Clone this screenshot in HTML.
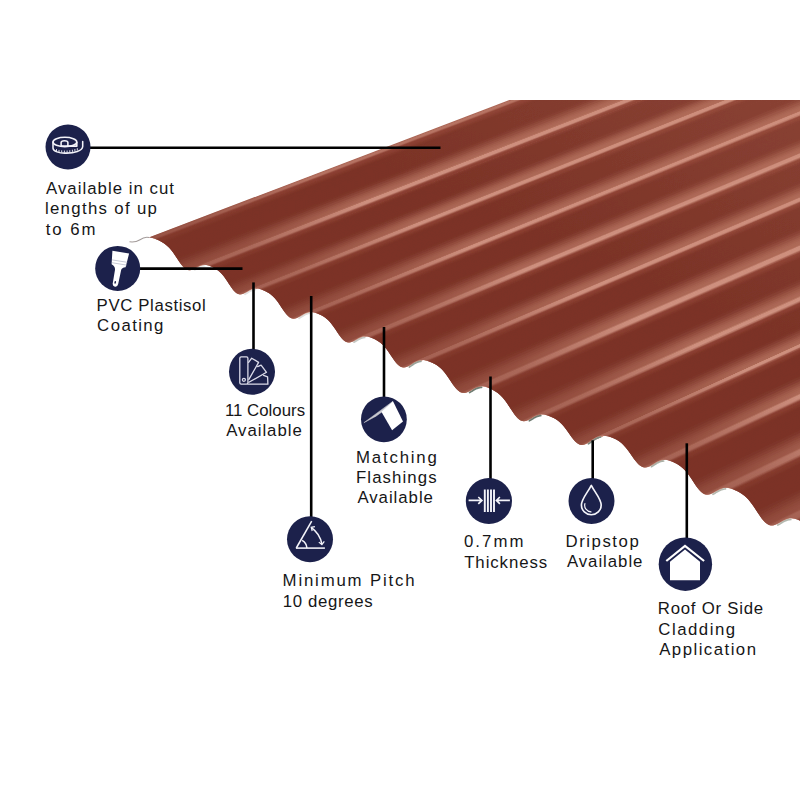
<!DOCTYPE html>
<html><head><meta charset="utf-8"><title>Corrugated sheet</title>
<style>
html,body{margin:0;padding:0;background:#fff;}
body{width:800px;height:800px;position:relative;overflow:hidden;font-family:"Liberation Sans",sans-serif;}
svg{position:absolute;left:0;top:0;}
.t{position:absolute;white-space:nowrap;font-size:16.8px;line-height:20px;height:20px;color:#161617;}
</style></head><body>
<svg width="800" height="800" viewBox="0 0 800 800">
<defs><filter id="soft" x="-5%" y="-5%" width="110%" height="110%"><feGaussianBlur stdDeviation="0.55"/></filter><linearGradient id="fade" gradientUnits="userSpaceOnUse" x1="400" y1="368" x2="569.7" y2="-16.3"><stop offset="0" stop-color="#7b3327" stop-opacity="0.55"/><stop offset="0.12" stop-color="#7b3327" stop-opacity="0.42"/><stop offset="0.333" stop-color="#7b3327" stop-opacity="0"/></linearGradient><linearGradient id="haze" gradientUnits="userSpaceOnUse" x1="400" y1="368" x2="569.7" y2="-16.3"><stop offset="0.42" stop-color="#cd8870" stop-opacity="0"/><stop offset="1" stop-color="#cd8870" stop-opacity="0.19"/></linearGradient><clipPath id="cp"><rect x="0" y="100" width="800" height="700"/></clipPath></defs>
<g clip-path="url(#cp)"><g filter="url(#soft)">
<path d="M148.8 237.5L151.4 237.8L1005 -87L1002 -88Z" fill="#aa6555"/>
<path d="M150.1 237.6L152.8 238.1L1006 -87L1004 -87Z" fill="#af6b5b"/>
<path d="M151.4 237.8L154.1 238.5L1007 -87L1005 -87Z" fill="#b57262"/>
<path d="M152.8 238.1L155.4 238.9L1008 -86L1006 -87Z" fill="#b77464"/>
<path d="M154.1 238.5L156.7 239.5L1009 -86L1007 -87Z" fill="#ae695a"/>
<path d="M155.4 238.9L158.0 240.0L1010 -85L1008 -86Z" fill="#964c3e"/>
<path d="M156.7 239.5L159.2 240.6L1011 -85L1009 -86Z" fill="#8b3f31"/>
<path d="M158.0 240.0L160.5 241.3L1012 -84L1010 -85Z" fill="#8a3e31"/>
<path d="M159.2 240.6L161.8 242.0L1013 -84L1011 -85Z" fill="#873c2f"/>
<path d="M160.5 241.3L163.0 242.7L1014 -83L1012 -84Z" fill="#83392c"/>
<path d="M161.8 242.0L164.3 243.6L1015 -82L1013 -84Z" fill="#7f3629"/>
<path d="M163.0 242.7L165.5 244.5L1016 -82L1014 -83Z" fill="#7b3327"/>
<path d="M164.3 243.6L166.7 245.5L1018 -81L1015 -82Z" fill="#7b3327"/>
<path d="M165.5 244.5L168.0 246.5L1019 -80L1016 -82Z" fill="#7b3327"/>
<path d="M166.7 245.5L169.2 247.8L1020 -79L1018 -81Z" fill="#7b3327"/>
<path d="M168.0 246.5L170.4 249.1L1021 -78L1019 -80Z" fill="#7b3327"/>
<path d="M169.2 247.8L171.6 250.5L1022 -77L1020 -79Z" fill="#7b3327"/>
<path d="M170.4 249.1L172.8 252.1L1023 -75L1021 -78Z" fill="#7b3327"/>
<path d="M171.6 250.5L174.0 253.7L1024 -74L1022 -77Z" fill="#7b3327"/>
<path d="M172.8 252.1L175.1 255.4L1025 -72L1023 -75Z" fill="#7b3327"/>
<path d="M174.0 253.7L176.3 257.2L1026 -71L1024 -74Z" fill="#7b3327"/>
<path d="M175.1 255.4L177.5 259.0L1027 -70L1025 -72Z" fill="#7b3327"/>
<path d="M176.3 257.2L178.6 260.7L1027 -68L1026 -71Z" fill="#7c3428"/>
<path d="M177.5 259.0L179.8 262.4L1028 -67L1027 -70Z" fill="#81392c"/>
<path d="M178.6 260.7L180.9 264.0L1029 -65L1027 -68Z" fill="#884234"/>
<path d="M179.8 262.4L182.1 265.5L1030 -64L1028 -67Z" fill="#914b3c"/>
<path d="M180.9 264.0L183.2 266.8L1031 -63L1029 -65Z" fill="#9a5545"/>
<path d="M182.1 265.5L184.3 267.9L1032 -62L1030 -64Z" fill="#a15d4c"/>
<path d="M183.2 266.8L185.4 268.9L1033 -61L1031 -63Z" fill="#a76251"/>
<path d="M184.3 267.9L186.6 269.5L1034 -61L1032 -62Z" fill="#aa6654"/>
<path d="M185.4 268.9L187.7 270.0L1035 -60L1033 -61Z" fill="#ab6755"/>
<path d="M186.6 269.5L188.8 270.3L1036 -60L1034 -61Z" fill="#b3705e"/>
<path d="M187.7 270.0L189.9 270.3L1037 -60L1035 -60Z" fill="#c58675"/>
<path d="M188.8 270.3L191.0 270.1L1038 -60L1036 -60Z" fill="#cd8f7e"/>
<path d="M189.9 270.3L192.1 269.8L1039 -60L1037 -60Z" fill="#ce907f"/>
<path d="M191.0 270.1L193.2 269.4L1040 -61L1038 -60Z" fill="#ce907f"/>
<path d="M192.1 269.8L194.2 268.8L1041 -61L1039 -60Z" fill="#ce907f"/>
<path d="M193.2 269.4L195.3 268.2L1042 -62L1040 -61Z" fill="#ce907f"/>
<path d="M194.2 268.8L196.4 267.6L1042 -62L1041 -61Z" fill="#ce907f"/>
<path d="M195.3 268.2L197.5 266.9L1043 -63L1042 -62Z" fill="#ce907f"/>
<path d="M196.4 267.6L198.5 266.3L1044 -63L1042 -62Z" fill="#ce907f"/>
<path d="M197.5 266.9L199.6 265.8L1045 -64L1043 -63Z" fill="#ce907f"/>
<path d="M198.5 266.3L200.7 265.4L1046 -64L1044 -63Z" fill="#ce907f"/>
<path d="M199.6 265.8L201.7 265.1L1047 -64L1045 -64Z" fill="#ce907f"/>
<path d="M200.7 265.4L202.8 264.9L1048 -65L1046 -64Z" fill="#ce907f"/>
<path d="M201.7 265.1L203.9 264.8L1049 -65L1047 -64Z" fill="#ce907f"/>
<path d="M202.8 264.9L204.9 264.8L1050 -65L1048 -65Z" fill="#ce907f"/>
<path d="M203.9 264.8L206.0 264.9L1050 -65L1049 -65Z" fill="#ce907f"/>
<path d="M204.9 264.8L207.0 265.1L1051 -64L1050 -65Z" fill="#ce907f"/>
<path d="M206.0 264.9L208.1 265.4L1052 -64L1050 -65Z" fill="#ce907f"/>
<path d="M207.0 265.1L209.1 265.7L1053 -64L1051 -64Z" fill="#cd8f7e"/>
<path d="M208.1 265.4L210.1 266.1L1054 -64L1052 -64Z" fill="#c38272"/>
<path d="M209.1 265.7L211.2 266.6L1055 -63L1053 -64Z" fill="#ac6758"/>
<path d="M210.1 266.1L212.2 267.1L1056 -63L1054 -64Z" fill="#944a3c"/>
<path d="M211.2 266.6L213.3 267.6L1057 -62L1055 -63Z" fill="#8b3f31"/>
<path d="M212.2 267.1L214.3 268.1L1057 -62L1056 -63Z" fill="#8a3e31"/>
<path d="M213.3 267.6L215.3 268.7L1058 -61L1057 -62Z" fill="#873c2e"/>
<path d="M214.3 268.1L216.4 269.4L1059 -61L1057 -62Z" fill="#83392c"/>
<path d="M215.3 268.7L217.4 270.1L1060 -60L1058 -61Z" fill="#7e3529"/>
<path d="M216.4 269.4L218.5 270.8L1061 -60L1059 -61Z" fill="#7b3327"/>
<path d="M217.4 270.1L219.5 271.7L1062 -59L1060 -60Z" fill="#7b3327"/>
<path d="M218.5 270.8L220.5 272.6L1063 -58L1061 -60Z" fill="#7b3327"/>
<path d="M219.5 271.7L221.6 273.7L1064 -57L1062 -59Z" fill="#7b3327"/>
<path d="M220.5 272.6L222.6 274.8L1064 -56L1063 -58Z" fill="#7b3327"/>
<path d="M221.6 273.7L223.6 276.1L1065 -55L1064 -57Z" fill="#7b3327"/>
<path d="M222.6 274.8L224.7 277.5L1066 -54L1064 -56Z" fill="#7b3327"/>
<path d="M223.6 276.1L225.7 278.9L1067 -53L1065 -55Z" fill="#7b3327"/>
<path d="M224.7 277.5L226.8 280.5L1068 -51L1066 -54Z" fill="#7b3327"/>
<path d="M225.7 278.9L227.8 282.0L1069 -50L1067 -53Z" fill="#7b3327"/>
<path d="M226.8 280.5L228.8 283.7L1070 -49L1068 -51Z" fill="#7b3327"/>
<path d="M227.8 282.0L229.9 285.3L1071 -47L1069 -50Z" fill="#7c3428"/>
<path d="M228.8 283.7L230.9 286.8L1071 -46L1070 -49Z" fill="#813a2d"/>
<path d="M229.9 285.3L232.0 288.3L1072 -45L1071 -47Z" fill="#894235"/>
<path d="M230.9 286.8L233.0 289.7L1073 -44L1071 -46Z" fill="#924c3d"/>
<path d="M232.0 288.3L234.1 291.0L1074 -43L1072 -45Z" fill="#9b5545"/>
<path d="M233.0 289.7L235.1 292.1L1075 -42L1073 -44Z" fill="#a25d4c"/>
<path d="M234.1 291.0L236.2 292.9L1076 -41L1074 -43Z" fill="#a76351"/>
<path d="M235.1 292.1L237.3 293.6L1077 -40L1075 -42Z" fill="#aa6654"/>
<path d="M236.2 292.9L238.3 294.1L1078 -40L1076 -41Z" fill="#ab6755"/>
<path d="M237.3 293.6L239.4 294.3L1079 -40L1077 -40Z" fill="#b47260"/>
<path d="M238.3 294.1L240.4 294.4L1079 -40L1078 -40Z" fill="#c78776"/>
<path d="M239.4 294.3L241.5 294.2L1080 -40L1079 -40Z" fill="#cd8f7e"/>
<path d="M240.4 294.4L242.6 293.9L1081 -40L1079 -40Z" fill="#ce907f"/>
<path d="M241.5 294.2L243.7 293.5L1082 -41L1080 -40Z" fill="#ce907f"/>
<path d="M242.6 293.9L244.8 292.9L1083 -41L1081 -40Z" fill="#ce907f"/>
<path d="M243.7 293.5L245.8 292.3L1084 -42L1082 -41Z" fill="#ce907f"/>
<path d="M244.8 292.9L246.9 291.6L1085 -42L1083 -41Z" fill="#ce907f"/>
<path d="M245.8 292.3L248.0 291.0L1086 -43L1084 -42Z" fill="#ce907f"/>
<path d="M246.9 291.6L249.1 290.3L1087 -43L1085 -42Z" fill="#ce907f"/>
<path d="M248.0 291.0L250.2 289.7L1088 -44L1086 -43Z" fill="#ce907f"/>
<path d="M249.1 290.3L251.3 289.3L1089 -44L1087 -43Z" fill="#ce907f"/>
<path d="M250.2 289.7L252.4 288.9L1089 -44L1088 -44Z" fill="#ce907f"/>
<path d="M251.3 289.3L253.5 288.6L1090 -45L1089 -44Z" fill="#ce907f"/>
<path d="M252.4 288.9L254.6 288.4L1091 -45L1089 -44Z" fill="#ce907f"/>
<path d="M253.5 288.6L255.7 288.4L1092 -45L1090 -45Z" fill="#ce907f"/>
<path d="M254.6 288.4L256.8 288.4L1093 -45L1091 -45Z" fill="#ce907f"/>
<path d="M255.7 288.4L257.9 288.6L1094 -45L1092 -45Z" fill="#ce907f"/>
<path d="M256.8 288.4L259.0 288.8L1095 -44L1093 -45Z" fill="#ce907f"/>
<path d="M257.9 288.6L260.2 289.1L1096 -44L1094 -45Z" fill="#cd8f7e"/>
<path d="M259.0 288.8L261.3 289.5L1097 -44L1095 -44Z" fill="#c18170"/>
<path d="M260.2 289.1L262.4 289.9L1098 -44L1096 -44Z" fill="#aa6555"/>
<path d="M261.3 289.5L263.5 290.3L1099 -43L1097 -44Z" fill="#93493a"/>
<path d="M262.4 289.9L264.6 290.8L1100 -43L1098 -44Z" fill="#8b3f31"/>
<path d="M263.5 290.3L265.8 291.4L1101 -42L1099 -43Z" fill="#8a3e30"/>
<path d="M264.6 290.8L266.9 292.0L1102 -42L1100 -43Z" fill="#863c2e"/>
<path d="M265.8 291.4L268.0 292.6L1103 -41L1101 -42Z" fill="#82382b"/>
<path d="M266.9 292.0L269.2 293.3L1104 -41L1102 -42Z" fill="#7e3529"/>
<path d="M268.0 292.6L270.3 294.1L1104 -40L1103 -41Z" fill="#7b3327"/>
<path d="M269.2 293.3L271.4 295.0L1105 -39L1104 -41Z" fill="#7b3327"/>
<path d="M270.3 294.1L272.6 295.9L1106 -38L1104 -40Z" fill="#7b3327"/>
<path d="M271.4 295.0L273.7 297.0L1107 -38L1105 -39Z" fill="#7b3327"/>
<path d="M272.6 295.9L274.8 298.3L1108 -37L1106 -38Z" fill="#7b3327"/>
<path d="M273.7 297.0L276.0 299.6L1109 -35L1107 -38Z" fill="#7b3327"/>
<path d="M274.8 298.3L277.1 301.1L1110 -34L1108 -37Z" fill="#7b3327"/>
<path d="M276.0 299.6L278.3 302.6L1111 -33L1109 -35Z" fill="#7b3327"/>
<path d="M277.1 301.1L279.4 304.3L1112 -31L1110 -34Z" fill="#7b3327"/>
<path d="M278.3 302.6L280.5 306.0L1113 -30L1111 -33Z" fill="#7b3327"/>
<path d="M279.4 304.3L281.7 307.7L1114 -29L1112 -31Z" fill="#7b3327"/>
<path d="M280.5 306.0L282.8 309.4L1115 -27L1113 -30Z" fill="#7c3428"/>
<path d="M281.7 307.7L284.0 311.1L1116 -26L1114 -29Z" fill="#823a2e"/>
<path d="M282.8 309.4L285.1 312.7L1117 -24L1115 -27Z" fill="#8a4335"/>
<path d="M284.0 311.1L286.3 314.1L1118 -23L1116 -26Z" fill="#934d3e"/>
<path d="M285.1 312.7L287.4 315.4L1119 -22L1117 -24Z" fill="#9b5646"/>
<path d="M286.3 314.1L288.6 316.5L1120 -21L1118 -23Z" fill="#a25e4d"/>
<path d="M287.4 315.4L289.7 317.4L1121 -20L1119 -22Z" fill="#a76352"/>
<path d="M288.6 316.5L290.9 318.1L1122 -20L1120 -21Z" fill="#aa6654"/>
<path d="M289.7 317.4L292.0 318.5L1123 -19L1121 -20Z" fill="#ab6755"/>
<path d="M290.9 318.1L293.2 318.7L1124 -19L1122 -20Z" fill="#b67362"/>
<path d="M292.0 318.5L294.3 318.7L1125 -19L1123 -19Z" fill="#c88977"/>
<path d="M293.2 318.7L295.5 318.5L1126 -20L1124 -19Z" fill="#cd8f7e"/>
<path d="M294.3 318.7L296.6 318.1L1127 -20L1125 -19Z" fill="#ce907f"/>
<path d="M295.5 318.5L297.8 317.6L1128 -20L1126 -20Z" fill="#ce907f"/>
<path d="M296.6 318.1L298.9 316.9L1129 -21L1127 -20Z" fill="#ce907f"/>
<path d="M297.8 317.6L300.1 316.2L1130 -21L1128 -20Z" fill="#ce907f"/>
<path d="M298.9 316.9L301.2 315.5L1130 -22L1129 -21Z" fill="#ce907f"/>
<path d="M300.1 316.2L302.4 314.7L1131 -23L1130 -21Z" fill="#ce907f"/>
<path d="M301.2 315.5L303.5 314.0L1132 -23L1130 -22Z" fill="#ce907f"/>
<path d="M302.4 314.7L304.7 313.4L1133 -24L1131 -23Z" fill="#ce907f"/>
<path d="M303.5 314.0L305.8 312.9L1134 -24L1132 -23Z" fill="#ce907f"/>
<path d="M304.7 313.4L307.0 312.5L1135 -25L1133 -24Z" fill="#ce907f"/>
<path d="M305.8 312.9L308.2 312.2L1136 -25L1134 -24Z" fill="#ce907f"/>
<path d="M307.0 312.5L309.3 312.0L1137 -25L1135 -25Z" fill="#ce907f"/>
<path d="M308.2 312.2L310.5 311.9L1138 -25L1136 -25Z" fill="#ce907f"/>
<path d="M309.3 312.0L311.6 312.0L1139 -25L1137 -25Z" fill="#ce907f"/>
<path d="M310.5 311.9L312.8 312.2L1140 -25L1138 -25Z" fill="#ce907f"/>
<path d="M311.6 312.0L313.9 312.4L1141 -25L1139 -25Z" fill="#ce907f"/>
<path d="M312.8 312.2L315.1 312.7L1142 -24L1140 -25Z" fill="#cd8f7e"/>
<path d="M313.9 312.4L316.2 313.1L1143 -24L1141 -25Z" fill="#c07f6e"/>
<path d="M315.1 312.7L317.4 313.5L1144 -24L1142 -24Z" fill="#a86253"/>
<path d="M316.2 313.1L318.5 314.0L1145 -23L1143 -24Z" fill="#924739"/>
<path d="M317.4 313.5L319.7 314.5L1146 -23L1144 -24Z" fill="#8b3f31"/>
<path d="M318.5 314.0L320.8 315.0L1147 -22L1145 -23Z" fill="#8a3e30"/>
<path d="M319.7 314.5L322.0 315.6L1148 -22L1146 -23Z" fill="#863b2e"/>
<path d="M320.8 315.0L323.1 316.3L1149 -21L1147 -22Z" fill="#82382b"/>
<path d="M322.0 315.6L324.3 317.0L1150 -21L1148 -22Z" fill="#7e3529"/>
<path d="M323.1 316.3L325.4 317.8L1151 -20L1149 -21Z" fill="#7b3327"/>
<path d="M324.3 317.0L326.6 318.7L1152 -19L1150 -21Z" fill="#7b3327"/>
<path d="M325.4 317.8L327.7 319.7L1153 -18L1151 -20Z" fill="#7b3327"/>
<path d="M326.6 318.7L328.9 320.8L1154 -18L1152 -19Z" fill="#7b3327"/>
<path d="M327.7 319.7L330.0 322.1L1155 -17L1153 -18Z" fill="#7b3327"/>
<path d="M328.9 320.8L331.2 323.4L1156 -15L1154 -18Z" fill="#7b3327"/>
<path d="M330.0 322.1L332.3 324.9L1157 -14L1155 -17Z" fill="#7b3327"/>
<path d="M331.2 323.4L333.4 326.5L1158 -13L1156 -15Z" fill="#7b3327"/>
<path d="M332.3 324.9L334.6 328.1L1158 -11L1157 -14Z" fill="#7b3327"/>
<path d="M333.4 326.5L335.7 329.8L1159 -10L1158 -13Z" fill="#7b3327"/>
<path d="M334.6 328.1L336.9 331.6L1160 -9L1158 -11Z" fill="#7b3327"/>
<path d="M335.7 329.8L338.0 333.3L1161 -7L1159 -10Z" fill="#7d3528"/>
<path d="M336.9 331.6L339.2 334.9L1162 -6L1160 -9Z" fill="#823b2e"/>
<path d="M338.0 333.3L340.3 336.5L1163 -4L1161 -7Z" fill="#8b4436"/>
<path d="M339.2 334.9L341.4 338.0L1164 -3L1162 -6Z" fill="#934e3e"/>
<path d="M340.3 336.5L342.6 339.2L1165 -2L1163 -4Z" fill="#9c5747"/>
<path d="M341.4 338.0L343.7 340.3L1166 -1L1164 -3Z" fill="#a35e4d"/>
<path d="M342.6 339.2L344.9 341.2L1167 -0L1165 -2Z" fill="#a86352"/>
<path d="M343.7 340.3L346.0 341.9L1168 0L1166 -1Z" fill="#ab6655"/>
<path d="M344.9 341.2L347.1 342.3L1169 0L1167 -0Z" fill="#ab6755"/>
<path d="M346.0 341.9L348.3 342.5L1170 1L1168 0Z" fill="#b77564"/>
<path d="M347.1 342.3L349.4 342.5L1171 1L1169 0Z" fill="#c98a79"/>
<path d="M348.3 342.5L350.5 342.3L1172 0L1170 1Z" fill="#ce907f"/>
<path d="M349.4 342.5L351.7 341.9L1173 0L1171 1Z" fill="#ce907f"/>
<path d="M350.5 342.3L352.8 341.4L1174 -0L1172 0Z" fill="#ce907f"/>
<path d="M351.7 341.9L353.9 340.8L1175 -1L1173 0Z" fill="#ce907f"/>
<path d="M352.8 341.4L355.1 340.1L1176 -1L1174 -0Z" fill="#ce907f"/>
<path d="M353.9 340.8L356.2 339.4L1177 -2L1175 -1Z" fill="#ce907f"/>
<path d="M355.1 340.1L357.3 338.7L1178 -3L1176 -1Z" fill="#ce907f"/>
<path d="M356.2 339.4L358.5 338.1L1179 -3L1177 -2Z" fill="#ce907f"/>
<path d="M357.3 338.7L359.6 337.5L1179 -4L1178 -3Z" fill="#ce907f"/>
<path d="M358.5 338.1L360.7 337.0L1180 -4L1179 -3Z" fill="#ce907f"/>
<path d="M359.6 337.5L361.8 336.7L1181 -4L1179 -4Z" fill="#ce907f"/>
<path d="M360.7 337.0L363.0 336.4L1182 -4L1180 -4Z" fill="#ce907f"/>
<path d="M361.8 336.7L364.1 336.3L1183 -5L1181 -4Z" fill="#ce907f"/>
<path d="M363.0 336.4L365.2 336.3L1184 -5L1182 -4Z" fill="#ce907f"/>
<path d="M364.1 336.3L366.4 336.4L1185 -4L1183 -5Z" fill="#ce907f"/>
<path d="M365.2 336.3L367.5 336.6L1186 -4L1184 -5Z" fill="#ce907f"/>
<path d="M366.4 336.4L368.6 336.8L1187 -4L1185 -4Z" fill="#ce907f"/>
<path d="M367.5 336.6L369.8 337.2L1188 -4L1186 -4Z" fill="#cc8e7d"/>
<path d="M368.6 336.8L370.9 337.6L1189 -3L1187 -4Z" fill="#be7d6d"/>
<path d="M369.8 337.2L372.0 338.0L1190 -3L1188 -4Z" fill="#a66051"/>
<path d="M370.9 337.6L373.2 338.5L1191 -3L1189 -3Z" fill="#904537"/>
<path d="M372.0 338.0L374.3 339.0L1192 -2L1190 -3Z" fill="#8b3f31"/>
<path d="M373.2 338.5L375.4 339.6L1193 -2L1191 -3Z" fill="#893e30"/>
<path d="M374.3 339.0L376.6 340.2L1194 -1L1192 -2Z" fill="#863b2e"/>
<path d="M375.4 339.6L377.7 340.9L1195 -1L1193 -2Z" fill="#81382b"/>
<path d="M376.6 340.2L378.9 341.6L1196 -0L1194 -1Z" fill="#7d3528"/>
<path d="M377.7 340.9L380.0 342.4L1197 1L1195 -1Z" fill="#7b3327"/>
<path d="M378.9 341.6L381.1 343.3L1198 1L1196 -0Z" fill="#7b3327"/>
<path d="M380.0 342.4L382.3 344.3L1199 2L1197 1Z" fill="#7b3327"/>
<path d="M381.1 343.3L383.4 345.5L1200 3L1198 1Z" fill="#7b3327"/>
<path d="M382.3 344.3L384.6 346.7L1200 4L1199 2Z" fill="#7b3327"/>
<path d="M383.4 345.5L385.7 348.1L1201 5L1200 3Z" fill="#7b3327"/>
<path d="M384.6 346.7L386.9 349.6L1202 7L1200 4Z" fill="#7b3327"/>
<path d="M385.7 348.1L388.1 351.2L1203 8L1201 5Z" fill="#7b3327"/>
<path d="M386.9 349.6L389.2 352.9L1204 9L1202 7Z" fill="#7b3327"/>
<path d="M388.1 351.2L390.4 354.6L1205 11L1203 8Z" fill="#7b3327"/>
<path d="M389.2 352.9L391.5 356.4L1206 12L1204 9Z" fill="#7b3327"/>
<path d="M390.4 354.6L392.7 358.1L1207 14L1205 11Z" fill="#7d3529"/>
<path d="M391.5 356.4L393.9 359.8L1208 15L1206 12Z" fill="#833c2f"/>
<path d="M392.7 358.1L395.0 361.4L1209 17L1207 14Z" fill="#8b4537"/>
<path d="M393.9 359.8L396.2 362.9L1210 18L1208 15Z" fill="#944e3f"/>
<path d="M395.0 361.4L397.4 364.2L1211 19L1209 17Z" fill="#9d5747"/>
<path d="M396.2 362.9L398.6 365.3L1212 20L1210 18Z" fill="#a35f4e"/>
<path d="M397.4 364.2L399.8 366.2L1213 21L1211 19Z" fill="#a86452"/>
<path d="M398.6 365.3L401.0 366.9L1214 21L1212 20Z" fill="#ab6755"/>
<path d="M399.8 366.2L402.1 367.3L1215 22L1213 21Z" fill="#ab6755"/>
<path d="M401.0 366.9L403.3 367.5L1216 22L1214 21Z" fill="#b97766"/>
<path d="M402.1 367.3L404.5 367.4L1217 22L1215 22Z" fill="#c98b7a"/>
<path d="M403.3 367.5L405.7 367.2L1218 21L1216 22Z" fill="#ce907f"/>
<path d="M404.5 367.4L406.9 366.7L1219 21L1217 22Z" fill="#ce907f"/>
<path d="M405.7 367.2L408.2 366.1L1220 21L1218 21Z" fill="#ce907f"/>
<path d="M406.9 366.7L409.4 365.4L1221 20L1219 21Z" fill="#ce907f"/>
<path d="M408.2 366.1L410.6 364.7L1222 19L1220 21Z" fill="#ce907f"/>
<path d="M409.4 365.4L411.8 363.8L1223 19L1221 20Z" fill="#ce907f"/>
<path d="M410.6 364.7L413.0 363.0L1224 18L1222 19Z" fill="#ce907f"/>
<path d="M411.8 363.8L414.2 362.3L1225 17L1223 19Z" fill="#ce907f"/>
<path d="M413.0 363.0L415.5 361.6L1226 17L1224 18Z" fill="#ce907f"/>
<path d="M414.2 362.3L416.7 361.0L1227 16L1225 17Z" fill="#ce907f"/>
<path d="M415.5 361.6L417.9 360.6L1229 16L1226 17Z" fill="#ce907f"/>
<path d="M416.7 361.0L419.2 360.2L1230 16L1227 16Z" fill="#ce907f"/>
<path d="M417.9 360.6L420.4 360.0L1231 15L1229 16Z" fill="#ce907f"/>
<path d="M419.2 360.2L421.7 360.0L1232 15L1230 16Z" fill="#ce907f"/>
<path d="M420.4 360.0L422.9 360.0L1233 15L1231 15Z" fill="#ce907f"/>
<path d="M421.7 360.0L424.1 360.1L1234 15L1232 15Z" fill="#ce907f"/>
<path d="M422.9 360.0L425.4 360.4L1235 16L1233 15Z" fill="#ce907f"/>
<path d="M424.1 360.1L426.6 360.7L1236 16L1234 15Z" fill="#cc8d7c"/>
<path d="M425.4 360.4L427.9 361.0L1237 16L1235 16Z" fill="#bd7b6b"/>
<path d="M426.6 360.7L429.1 361.5L1238 17L1236 16Z" fill="#a45d4e"/>
<path d="M427.9 361.0L430.4 361.9L1239 17L1237 16Z" fill="#8f4436"/>
<path d="M429.1 361.5L431.7 362.5L1240 17L1238 17Z" fill="#8b3f31"/>
<path d="M430.4 361.9L432.9 363.0L1241 18L1239 17Z" fill="#893e30"/>
<path d="M431.7 362.5L434.2 363.7L1242 18L1240 17Z" fill="#853b2e"/>
<path d="M432.9 363.0L435.4 364.3L1243 19L1241 18Z" fill="#81382b"/>
<path d="M434.2 363.7L436.7 365.1L1244 20L1242 18Z" fill="#7d3428"/>
<path d="M435.4 364.3L438.0 366.0L1245 20L1243 19Z" fill="#7b3327"/>
<path d="M436.7 365.1L439.2 367.0L1246 21L1244 20Z" fill="#7b3327"/>
<path d="M438.0 366.0L440.5 368.0L1247 22L1245 20Z" fill="#7b3327"/>
<path d="M439.2 367.0L441.8 369.3L1249 23L1246 21Z" fill="#7b3327"/>
<path d="M440.5 368.0L443.0 370.6L1250 24L1247 22Z" fill="#7b3327"/>
<path d="M441.8 369.3L444.3 372.1L1251 26L1249 23Z" fill="#7b3327"/>
<path d="M443.0 370.6L445.6 373.8L1252 27L1250 24Z" fill="#7b3327"/>
<path d="M444.3 372.1L446.9 375.5L1253 28L1251 26Z" fill="#7b3327"/>
<path d="M445.6 373.8L448.1 377.3L1254 30L1252 27Z" fill="#7b3327"/>
<path d="M446.9 375.5L449.4 379.2L1255 32L1253 28Z" fill="#7b3327"/>
<path d="M448.1 377.3L450.7 381.1L1256 33L1254 30Z" fill="#7b3327"/>
<path d="M449.4 379.2L451.9 383.0L1257 35L1255 32Z" fill="#7d3529"/>
<path d="M450.7 381.1L453.2 384.9L1258 36L1256 33Z" fill="#843c2f"/>
<path d="M451.9 383.0L454.5 386.6L1259 38L1257 35Z" fill="#8c4537"/>
<path d="M453.2 384.9L455.8 388.2L1260 39L1258 36Z" fill="#954f40"/>
<path d="M454.5 386.6L457.0 389.6L1261 40L1259 38Z" fill="#9d5848"/>
<path d="M455.8 388.2L458.3 390.7L1262 41L1260 39Z" fill="#a45f4e"/>
<path d="M457.0 389.6L459.6 391.7L1263 42L1261 40Z" fill="#a86452"/>
<path d="M458.3 390.7L460.9 392.4L1265 43L1262 41Z" fill="#ab6755"/>
<path d="M459.6 391.7L462.1 392.8L1266 43L1263 42Z" fill="#ac6856"/>
<path d="M460.9 392.4L463.4 393.0L1267 43L1265 43Z" fill="#ba7968"/>
<path d="M462.1 392.8L464.7 392.9L1268 43L1266 43Z" fill="#ca8c7b"/>
<path d="M463.4 393.0L466.0 392.7L1269 43L1267 43Z" fill="#ce907f"/>
<path d="M464.7 392.9L467.2 392.2L1270 42L1268 43Z" fill="#ce907f"/>
<path d="M466.0 392.7L468.5 391.6L1271 42L1269 43Z" fill="#ce907f"/>
<path d="M467.2 392.2L469.8 390.9L1272 41L1270 42Z" fill="#ce907f"/>
<path d="M468.5 391.6L471.0 390.2L1273 41L1271 42Z" fill="#ce907f"/>
<path d="M469.8 390.9L472.3 389.4L1274 40L1272 41Z" fill="#ce907f"/>
<path d="M471.0 390.2L473.6 388.7L1275 39L1273 41Z" fill="#ce907f"/>
<path d="M472.3 389.4L474.9 388.0L1276 39L1274 40Z" fill="#ce907f"/>
<path d="M473.6 388.7L476.1 387.4L1277 38L1275 39Z" fill="#ce907f"/>
<path d="M474.9 388.0L477.4 386.9L1278 38L1276 39Z" fill="#ce907f"/>
<path d="M476.1 387.4L478.7 386.5L1280 38L1277 38Z" fill="#ce907f"/>
<path d="M477.4 386.9L479.9 386.3L1281 37L1278 38Z" fill="#ce907f"/>
<path d="M478.7 386.5L481.2 386.2L1282 37L1280 38Z" fill="#ce907f"/>
<path d="M479.9 386.3L482.4 386.2L1283 37L1281 37Z" fill="#ce907f"/>
<path d="M481.2 386.2L483.7 386.4L1284 38L1282 37Z" fill="#ce907f"/>
<path d="M482.4 386.2L485.0 386.7L1285 38L1283 37Z" fill="#ce907f"/>
<path d="M483.7 386.4L486.2 387.0L1286 38L1284 38Z" fill="#ce907f"/>
<path d="M485.0 386.7L487.5 387.4L1287 38L1285 38Z" fill="#cb8d7c"/>
<path d="M486.2 387.0L488.7 387.9L1288 39L1286 38Z" fill="#bb7969"/>
<path d="M487.5 387.4L490.0 388.5L1289 39L1287 38Z" fill="#a25b4c"/>
<path d="M488.7 387.9L491.3 389.1L1290 40L1288 39Z" fill="#8e4335"/>
<path d="M490.0 388.5L492.5 389.7L1291 40L1289 39Z" fill="#8b3f31"/>
<path d="M491.3 389.1L493.8 390.4L1292 41L1290 40Z" fill="#893e30"/>
<path d="M492.5 389.7L495.0 391.2L1293 42L1291 40Z" fill="#853b2d"/>
<path d="M493.8 390.4L496.3 392.0L1294 42L1292 41Z" fill="#81372b"/>
<path d="M495.0 391.2L497.5 392.8L1295 43L1293 42Z" fill="#7d3428"/>
<path d="M496.3 392.0L498.8 393.8L1296 44L1294 42Z" fill="#7b3327"/>
<path d="M497.5 392.8L500.0 394.9L1297 45L1295 43Z" fill="#7b3327"/>
<path d="M498.8 393.8L501.3 396.1L1299 46L1296 44Z" fill="#7b3327"/>
<path d="M500.0 394.9L502.5 397.4L1300 47L1297 45Z" fill="#7b3327"/>
<path d="M501.3 396.1L503.8 398.8L1301 48L1299 46Z" fill="#7b3327"/>
<path d="M502.5 397.4L505.0 400.4L1302 49L1300 47Z" fill="#7b3327"/>
<path d="M503.8 398.8L506.3 402.1L1303 51L1301 48Z" fill="#7b3327"/>
<path d="M505.0 400.4L507.5 403.9L1304 52L1302 49Z" fill="#7b3327"/>
<path d="M506.3 402.1L508.7 405.7L1305 54L1303 51Z" fill="#7b3327"/>
<path d="M507.5 403.9L510.0 407.7L1306 55L1304 52Z" fill="#7b3327"/>
<path d="M508.7 405.7L511.2 409.6L1307 57L1305 54Z" fill="#7b3327"/>
<path d="M510.0 407.7L512.5 411.5L1308 59L1306 55Z" fill="#7e362a"/>
<path d="M511.2 409.6L513.7 413.3L1309 60L1307 57Z" fill="#843d30"/>
<path d="M512.5 411.5L514.9 415.0L1310 62L1308 59Z" fill="#8d4638"/>
<path d="M513.7 413.3L516.2 416.6L1311 63L1309 60Z" fill="#965040"/>
<path d="M514.9 415.0L517.4 417.9L1312 64L1310 62Z" fill="#9e5948"/>
<path d="M516.2 416.6L518.6 419.1L1313 65L1311 63Z" fill="#a4604f"/>
<path d="M517.4 417.9L519.8 420.0L1314 66L1312 64Z" fill="#a96453"/>
<path d="M518.6 419.1L521.1 420.7L1315 66L1313 65Z" fill="#ab6755"/>
<path d="M519.8 420.0L522.3 421.1L1316 67L1314 66Z" fill="#ac6856"/>
<path d="M521.1 420.7L523.5 421.2L1317 67L1315 66Z" fill="#bc7b69"/>
<path d="M522.3 421.1L524.7 421.2L1318 67L1316 67Z" fill="#cb8c7b"/>
<path d="M523.5 421.2L526.0 420.9L1319 67L1317 67Z" fill="#ce907f"/>
<path d="M524.7 421.2L527.2 420.5L1320 66L1318 67Z" fill="#ce907f"/>
<path d="M526.0 420.9L528.4 419.9L1321 66L1319 67Z" fill="#ce907f"/>
<path d="M527.2 420.5L529.6 419.2L1322 65L1320 66Z" fill="#ce907f"/>
<path d="M528.4 419.9L530.8 418.5L1323 64L1321 66Z" fill="#ce907f"/>
<path d="M529.6 419.2L532.0 417.7L1324 64L1322 65Z" fill="#ce907f"/>
<path d="M530.8 418.5L533.3 417.0L1325 63L1323 64Z" fill="#ce907f"/>
<path d="M532.0 417.7L534.5 416.3L1326 63L1324 64Z" fill="#ce907f"/>
<path d="M533.3 417.0L535.7 415.7L1327 62L1325 63Z" fill="#ce907f"/>
<path d="M534.5 416.3L536.9 415.1L1328 62L1326 63Z" fill="#ce907f"/>
<path d="M535.7 415.7L538.1 414.8L1329 61L1327 62Z" fill="#ce907f"/>
<path d="M536.9 415.1L539.3 414.5L1330 61L1328 62Z" fill="#ce907f"/>
<path d="M538.1 414.8L540.5 414.3L1331 61L1329 61Z" fill="#ce907f"/>
<path d="M539.3 414.5L541.7 414.3L1332 61L1330 61Z" fill="#ce907f"/>
<path d="M540.5 414.3L542.9 414.4L1334 61L1331 61Z" fill="#ce907f"/>
<path d="M541.7 414.3L544.2 414.6L1335 61L1332 61Z" fill="#ce907f"/>
<path d="M542.9 414.4L545.4 414.8L1336 61L1334 61Z" fill="#ce907f"/>
<path d="M544.2 414.6L546.6 415.2L1337 62L1335 61Z" fill="#ca8c7b"/>
<path d="M545.4 414.8L547.8 415.6L1338 62L1336 61Z" fill="#b97767"/>
<path d="M546.6 415.2L549.0 416.0L1339 62L1337 62Z" fill="#a0594a"/>
<path d="M547.8 415.6L550.2 416.5L1340 63L1338 62Z" fill="#8d4234"/>
<path d="M549.0 416.0L551.4 417.0L1341 63L1339 62Z" fill="#8b3f31"/>
<path d="M550.2 416.5L552.6 417.5L1342 64L1340 63Z" fill="#893d30"/>
<path d="M551.4 417.0L553.9 418.1L1343 64L1341 63Z" fill="#853a2d"/>
<path d="M552.6 417.5L555.1 418.8L1344 65L1342 64Z" fill="#80372a"/>
<path d="M553.9 418.1L556.3 419.5L1345 65L1343 64Z" fill="#7c3428"/>
<path d="M555.1 418.8L557.5 420.3L1346 66L1344 65Z" fill="#7b3327"/>
<path d="M556.3 419.5L558.7 421.2L1347 67L1345 65Z" fill="#7b3327"/>
<path d="M557.5 420.3L559.9 422.3L1348 68L1346 66Z" fill="#7b3327"/>
<path d="M558.7 421.2L561.2 423.4L1349 69L1347 67Z" fill="#7b3327"/>
<path d="M559.9 422.3L562.4 424.7L1350 70L1348 68Z" fill="#7b3327"/>
<path d="M561.2 423.4L563.6 426.1L1351 71L1349 69Z" fill="#7b3327"/>
<path d="M562.4 424.7L564.9 427.7L1352 72L1350 70Z" fill="#7b3327"/>
<path d="M563.6 426.1L566.1 429.3L1353 74L1351 71Z" fill="#7b3327"/>
<path d="M564.9 427.7L567.3 431.0L1354 75L1352 72Z" fill="#7b3327"/>
<path d="M566.1 429.3L568.6 432.8L1355 77L1353 74Z" fill="#7b3327"/>
<path d="M567.3 431.0L569.8 434.6L1356 78L1354 75Z" fill="#7b3327"/>
<path d="M568.6 432.8L571.0 436.3L1357 79L1355 77Z" fill="#7e362a"/>
<path d="M569.8 434.6L572.3 438.0L1358 81L1356 78Z" fill="#853e30"/>
<path d="M571.0 436.3L573.5 439.6L1359 82L1357 79Z" fill="#8d4739"/>
<path d="M572.3 438.0L574.8 441.1L1360 83L1358 81Z" fill="#965041"/>
<path d="M573.5 439.6L576.0 442.3L1361 84L1359 82Z" fill="#9e5949"/>
<path d="M574.8 441.1L577.3 443.3L1362 85L1360 83Z" fill="#a5604f"/>
<path d="M576.0 442.3L578.6 444.1L1363 86L1361 84Z" fill="#a96553"/>
<path d="M577.3 443.3L579.8 444.7L1364 87L1362 85Z" fill="#ab6755"/>
<path d="M578.6 444.1L581.1 445.0L1366 87L1363 86Z" fill="#ac6856"/>
<path d="M579.8 444.7L582.4 445.0L1367 87L1364 87Z" fill="#be7d6b"/>
<path d="M581.1 445.0L583.6 444.8L1368 87L1366 87Z" fill="#cc8d7c"/>
<path d="M582.4 445.0L584.9 444.4L1369 86L1367 87Z" fill="#ce907f"/>
<path d="M583.6 444.8L586.2 443.8L1370 86L1368 87Z" fill="#ce907f"/>
<path d="M584.9 444.4L587.5 443.0L1371 85L1369 86Z" fill="#ce907f"/>
<path d="M586.2 443.8L588.8 442.1L1372 84L1370 86Z" fill="#ce907f"/>
<path d="M587.5 443.0L590.1 441.2L1373 84L1371 85Z" fill="#ce907f"/>
<path d="M588.8 442.1L591.4 440.3L1374 83L1372 84Z" fill="#ce907f"/>
<path d="M590.1 441.2L592.7 439.3L1375 82L1373 84Z" fill="#ce907f"/>
<path d="M591.4 440.3L594.0 438.5L1376 81L1374 83Z" fill="#ce907f"/>
<path d="M592.7 439.3L595.3 437.7L1377 81L1375 82Z" fill="#ce907f"/>
<path d="M594.0 438.5L596.6 437.0L1379 80L1376 81Z" fill="#ce907f"/>
<path d="M595.3 437.7L597.9 436.4L1380 80L1377 81Z" fill="#ce907f"/>
<path d="M596.6 437.0L599.2 436.0L1381 79L1379 80Z" fill="#ce907f"/>
<path d="M597.9 436.4L600.5 435.8L1382 79L1380 80Z" fill="#ce907f"/>
<path d="M599.2 436.0L601.8 435.6L1383 79L1381 79Z" fill="#ce907f"/>
<path d="M600.5 435.8L603.1 435.6L1384 79L1382 79Z" fill="#ce907f"/>
<path d="M601.8 435.6L604.5 435.7L1385 79L1383 79Z" fill="#ce907f"/>
<path d="M603.1 435.6L605.8 435.9L1386 79L1384 79Z" fill="#ce907f"/>
<path d="M604.5 435.7L607.1 436.1L1387 79L1385 79Z" fill="#c98b7a"/>
<path d="M605.8 435.9L608.4 436.5L1389 80L1386 79Z" fill="#b77464"/>
<path d="M607.1 436.1L609.7 436.8L1390 80L1387 79Z" fill="#9e5647"/>
<path d="M608.4 436.5L611.1 437.3L1391 80L1389 80Z" fill="#8d4133"/>
<path d="M609.7 436.8L612.4 437.7L1392 81L1390 80Z" fill="#8b3f31"/>
<path d="M611.1 437.3L613.7 438.3L1393 81L1391 80Z" fill="#883d2f"/>
<path d="M612.4 437.7L615.1 438.9L1394 82L1392 81Z" fill="#843a2d"/>
<path d="M613.7 438.3L616.4 439.5L1395 82L1393 81Z" fill="#80372a"/>
<path d="M615.1 438.9L617.7 440.3L1396 83L1394 82Z" fill="#7c3428"/>
<path d="M616.4 439.5L619.0 441.2L1397 84L1395 82Z" fill="#7b3327"/>
<path d="M617.7 440.3L620.4 442.1L1399 84L1396 83Z" fill="#7b3327"/>
<path d="M619.0 441.2L621.7 443.2L1400 85L1397 84Z" fill="#7b3327"/>
<path d="M620.4 442.1L623.0 444.5L1401 86L1399 84Z" fill="#7b3327"/>
<path d="M621.7 443.2L624.4 445.9L1402 87L1400 85Z" fill="#7b3327"/>
<path d="M623.0 444.5L625.7 447.4L1403 89L1401 86Z" fill="#7b3327"/>
<path d="M624.4 445.9L627.0 449.1L1404 90L1402 87Z" fill="#7b3327"/>
<path d="M625.7 447.4L628.3 450.8L1405 92L1403 89Z" fill="#7b3327"/>
<path d="M627.0 449.1L629.7 452.7L1406 93L1404 90Z" fill="#7b3327"/>
<path d="M628.3 450.8L631.0 454.6L1407 95L1405 92Z" fill="#7b3327"/>
<path d="M629.7 452.7L632.3 456.5L1409 96L1406 93Z" fill="#7b3327"/>
<path d="M631.0 454.6L633.6 458.4L1410 98L1407 95Z" fill="#7e372a"/>
<path d="M632.3 456.5L635.0 460.2L1411 99L1409 96Z" fill="#853e31"/>
<path d="M633.6 458.4L636.3 461.8L1412 101L1410 98Z" fill="#8e4839"/>
<path d="M635.0 460.2L637.6 463.3L1413 102L1411 99Z" fill="#975142"/>
<path d="M636.3 461.8L638.9 464.7L1414 103L1412 101Z" fill="#9f5a49"/>
<path d="M637.6 463.3L640.2 465.7L1415 104L1413 102Z" fill="#a5614f"/>
<path d="M638.9 464.7L641.5 466.6L1416 105L1414 103Z" fill="#a96553"/>
<path d="M640.2 465.7L642.8 467.1L1417 105L1415 104Z" fill="#ab6755"/>
<path d="M641.5 466.6L644.2 467.5L1419 106L1416 105Z" fill="#ad6957"/>
<path d="M642.8 467.1L645.5 467.5L1420 106L1417 105Z" fill="#bf7f6d"/>
<path d="M644.2 467.5L646.8 467.3L1421 106L1419 106Z" fill="#cc8e7d"/>
<path d="M645.5 467.5L648.1 466.9L1422 105L1420 106Z" fill="#ce907f"/>
<path d="M646.8 467.3L649.4 466.4L1423 105L1421 106Z" fill="#ce907f"/>
<path d="M648.1 466.9L650.7 465.7L1424 104L1422 105Z" fill="#ce907f"/>
<path d="M649.4 466.4L652.0 464.9L1425 103L1423 105Z" fill="#ce907f"/>
<path d="M650.7 465.7L653.2 464.0L1426 103L1424 104Z" fill="#ce907f"/>
<path d="M652.0 464.9L654.5 463.2L1427 102L1425 103Z" fill="#ce907f"/>
<path d="M653.2 464.0L655.8 462.4L1428 101L1426 103Z" fill="#ce907f"/>
<path d="M654.5 463.2L657.1 461.6L1429 101L1427 102Z" fill="#ce907f"/>
<path d="M655.8 462.4L658.4 461.0L1430 100L1428 101Z" fill="#ce907f"/>
<path d="M657.1 461.6L659.7 460.5L1432 100L1429 101Z" fill="#ce907f"/>
<path d="M658.4 461.0L661.0 460.1L1433 99L1430 100Z" fill="#ce907f"/>
<path d="M659.7 460.5L662.2 459.8L1434 99L1432 100Z" fill="#ce907f"/>
<path d="M661.0 460.1L663.5 459.7L1435 99L1433 99Z" fill="#ce907f"/>
<path d="M662.2 459.8L664.8 459.7L1436 99L1434 99Z" fill="#ce907f"/>
<path d="M663.5 459.7L666.1 459.8L1437 99L1435 99Z" fill="#ce907f"/>
<path d="M664.8 459.7L667.4 460.1L1438 99L1436 99Z" fill="#ce907f"/>
<path d="M666.1 459.8L668.6 460.4L1439 100L1437 99Z" fill="#ce907f"/>
<path d="M667.4 460.1L669.9 460.8L1440 100L1438 99Z" fill="#c88979"/>
<path d="M668.6 460.4L671.2 461.3L1441 100L1439 100Z" fill="#b57262"/>
<path d="M669.9 460.8L672.5 461.8L1442 101L1440 100Z" fill="#9c5445"/>
<path d="M671.2 461.3L673.7 462.3L1443 101L1441 100Z" fill="#8c4032"/>
<path d="M672.5 461.8L675.0 462.9L1444 102L1442 101Z" fill="#8b3f31"/>
<path d="M673.7 462.3L676.3 463.6L1446 102L1443 101Z" fill="#883d2f"/>
<path d="M675.0 462.9L677.6 464.3L1447 103L1444 102Z" fill="#843a2d"/>
<path d="M676.3 463.6L678.8 465.1L1448 104L1446 102Z" fill="#80372a"/>
<path d="M677.6 464.3L680.1 466.0L1449 104L1447 103Z" fill="#7c3427"/>
<path d="M678.8 465.1L681.4 466.9L1450 105L1448 104Z" fill="#7b3327"/>
<path d="M680.1 466.0L682.6 468.0L1451 106L1449 104Z" fill="#7b3327"/>
<path d="M681.4 466.9L683.9 469.2L1452 107L1450 105Z" fill="#7b3327"/>
<path d="M682.6 468.0L685.2 470.5L1453 108L1451 106Z" fill="#7b3327"/>
<path d="M683.9 469.2L686.5 472.0L1454 109L1452 107Z" fill="#7b3327"/>
<path d="M685.2 470.5L687.8 473.6L1455 111L1453 108Z" fill="#7b3327"/>
<path d="M686.5 472.0L689.0 475.3L1456 112L1454 109Z" fill="#7b3327"/>
<path d="M687.8 473.6L690.3 477.1L1457 114L1455 111Z" fill="#7b3327"/>
<path d="M689.0 475.3L691.6 479.0L1458 115L1456 112Z" fill="#7b3327"/>
<path d="M690.3 477.1L692.9 481.0L1459 117L1457 114Z" fill="#7b3327"/>
<path d="M691.6 479.0L694.2 483.0L1461 119L1458 115Z" fill="#7b3327"/>
<path d="M692.9 481.0L695.4 484.9L1462 120L1459 117Z" fill="#7f372b"/>
<path d="M694.2 483.0L696.7 486.8L1463 122L1461 119Z" fill="#863f32"/>
<path d="M695.4 484.9L698.0 488.5L1464 123L1462 120Z" fill="#8f483a"/>
<path d="M696.7 486.8L699.3 490.1L1465 125L1463 122Z" fill="#985242"/>
<path d="M698.0 488.5L700.6 491.5L1466 126L1464 123Z" fill="#9f5a4a"/>
<path d="M699.3 490.1L701.9 492.6L1467 127L1465 125Z" fill="#a56150"/>
<path d="M700.6 491.5L703.2 493.6L1468 128L1466 126Z" fill="#a96553"/>
<path d="M701.9 492.6L704.5 494.2L1469 128L1467 127Z" fill="#ab6755"/>
<path d="M703.2 493.6L705.8 494.6L1470 128L1468 128Z" fill="#ae6a58"/>
<path d="M704.5 494.2L707.1 494.8L1471 129L1469 128Z" fill="#c1806f"/>
<path d="M705.8 494.6L708.4 494.7L1472 128L1470 128Z" fill="#cc8e7d"/>
<path d="M707.1 494.8L709.7 494.3L1474 128L1471 129Z" fill="#ce907f"/>
<path d="M708.4 494.7L711.0 493.9L1475 128L1472 128Z" fill="#ce907f"/>
<path d="M709.7 494.3L712.3 493.2L1476 127L1474 128Z" fill="#ce907f"/>
<path d="M711.0 493.9L713.6 492.5L1477 127L1475 128Z" fill="#ce907f"/>
<path d="M712.3 493.2L714.9 491.7L1478 126L1476 127Z" fill="#ce907f"/>
<path d="M713.6 492.5L716.2 490.9L1479 125L1477 127Z" fill="#ce907f"/>
<path d="M714.9 491.7L717.6 490.1L1480 125L1478 126Z" fill="#ce907f"/>
<path d="M716.2 490.9L718.9 489.4L1481 124L1479 125Z" fill="#ce907f"/>
<path d="M717.6 490.1L720.2 488.8L1482 124L1480 125Z" fill="#ce907f"/>
<path d="M718.9 489.4L721.5 488.3L1484 123L1481 124Z" fill="#ce907f"/>
<path d="M720.2 488.8L722.9 488.0L1485 123L1482 124Z" fill="#ce907f"/>
<path d="M721.5 488.3L724.2 487.7L1486 123L1484 123Z" fill="#ce907f"/>
<path d="M722.9 488.0L725.5 487.7L1487 123L1485 123Z" fill="#ce907f"/>
<path d="M724.2 487.7L726.8 487.7L1488 123L1486 123Z" fill="#ce907f"/>
<path d="M725.5 487.7L728.2 487.9L1489 123L1487 123Z" fill="#ce907f"/>
<path d="M726.8 487.7L729.5 488.2L1490 123L1488 123Z" fill="#ce907f"/>
<path d="M728.2 487.9L730.9 488.5L1491 123L1489 123Z" fill="#ce907f"/>
<path d="M729.5 488.2L732.2 489.0L1492 124L1490 123Z" fill="#c78877"/>
<path d="M730.9 488.5L733.5 489.5L1494 124L1491 123Z" fill="#b37060"/>
<path d="M732.2 489.0L734.9 490.1L1495 125L1492 124Z" fill="#9b5243"/>
<path d="M733.5 489.5L736.2 490.7L1496 125L1494 124Z" fill="#8c4032"/>
<path d="M734.9 490.1L737.6 491.3L1497 126L1495 125Z" fill="#8b3f31"/>
<path d="M736.2 490.7L738.9 492.1L1498 126L1496 125Z" fill="#883d2f"/>
<path d="M737.6 491.3L740.3 492.8L1499 127L1497 126Z" fill="#843a2d"/>
<path d="M738.9 492.1L741.6 493.7L1500 128L1498 126Z" fill="#7f362a"/>
<path d="M740.3 492.8L743.0 494.6L1502 128L1499 127Z" fill="#7c3327"/>
<path d="M741.6 493.7L744.3 495.7L1503 129L1500 128Z" fill="#7b3327"/>
<path d="M743.0 494.6L745.7 496.8L1504 130L1502 128Z" fill="#7b3327"/>
<path d="M744.3 495.7L747.1 498.1L1505 131L1503 129Z" fill="#7b3327"/>
<path d="M745.7 496.8L748.4 499.6L1506 133L1504 130Z" fill="#7b3327"/>
<path d="M747.1 498.1L749.8 501.2L1507 134L1505 131Z" fill="#7b3327"/>
<path d="M748.4 499.6L751.1 502.9L1508 135L1506 133Z" fill="#7b3327"/>
<path d="M749.8 501.2L752.5 504.8L1510 137L1507 134Z" fill="#7b3327"/>
<path d="M751.1 502.9L753.9 506.8L1511 139L1508 135Z" fill="#7b3327"/>
<path d="M752.5 504.8L755.2 508.8L1512 140L1510 137Z" fill="#7b3327"/>
<path d="M753.9 506.8L756.6 510.9L1513 142L1511 139Z" fill="#7b3327"/>
<path d="M755.2 508.8L758.0 513.0L1514 144L1512 140Z" fill="#7b3327"/>
<path d="M756.6 510.9L759.3 515.1L1515 146L1513 142Z" fill="#7f382b"/>
<path d="M758.0 513.0L760.7 517.1L1516 147L1514 144Z" fill="#874032"/>
<path d="M759.3 515.1L762.1 518.9L1518 149L1515 146Z" fill="#8f493b"/>
<path d="M760.7 517.1L763.4 520.6L1519 150L1516 147Z" fill="#985343"/>
<path d="M762.1 518.9L764.8 522.1L1520 152L1518 149Z" fill="#a05b4a"/>
<path d="M763.4 520.6L766.2 523.3L1521 153L1519 150Z" fill="#a66150"/>
<path d="M764.8 522.1L767.6 524.3L1522 153L1520 152Z" fill="#aa6554"/>
<path d="M766.2 523.3L768.9 525.0L1523 154L1521 153Z" fill="#ab6755"/>
<path d="M767.6 524.3L770.3 525.4L1524 154L1522 153Z" fill="#af6b5a"/>
<path d="M768.9 525.0L771.7 525.5L1526 154L1523 154Z" fill="#c28271"/>
<path d="M770.3 525.4L773.1 525.4L1527 154L1524 154Z" fill="#cd8f7e"/>
<path d="M771.7 525.5L774.4 525.0L1528 154L1526 154Z" fill="#ce907f"/>
<path d="M773.1 525.4L775.8 524.5L1529 154L1527 154Z" fill="#ce907f"/>
<path d="M774.4 525.0L777.2 523.9L1530 153L1528 154Z" fill="#ce907f"/>
<path d="M775.8 524.5L778.6 523.1L1531 152L1529 154Z" fill="#ce907f"/>
<path d="M777.2 523.9L779.9 522.3L1533 152L1530 153Z" fill="#ce907f"/>
<path d="M778.6 523.1L781.3 521.4L1534 151L1531 152Z" fill="#ce907f"/>
<path d="M779.9 522.3L782.7 520.7L1535 150L1533 152Z" fill="#ce907f"/>
<path d="M781.3 521.4L784.1 519.9L1536 150L1534 151Z" fill="#ce907f"/>
<path d="M782.7 520.7L785.5 519.3L1537 149L1535 150Z" fill="#ce907f"/>
<path d="M784.1 519.9L786.8 518.8L1538 149L1536 150Z" fill="#ce907f"/>
<path d="M785.5 519.3L788.2 518.5L1540 149L1537 149Z" fill="#ce907f"/>
<path d="M786.8 518.8L789.6 518.3L1541 148L1538 149Z" fill="#ce907f"/>
<path d="M788.2 518.5L791.0 518.2L1542 148L1540 149Z" fill="#ce907f"/>
<path d="M789.6 518.3L792.4 518.3L1543 148L1541 148Z" fill="#ce907f"/>
<path d="M791.0 518.2L793.7 518.5L1544 149L1542 148Z" fill="#ce907f"/>
<path d="M792.4 518.3L795.1 518.8L1545 149L1543 148Z" fill="#ce907f"/>
<path d="M793.7 518.5L796.5 519.2L1547 149L1544 149Z" fill="#ce907f"/>
<path d="M795.1 518.8L797.9 519.7L1548 150L1545 149Z" fill="#c68776"/>
<path d="M796.5 519.2L799.3 520.3L1549 150L1547 149Z" fill="#b16e5e"/>
<path d="M797.9 519.7L800.7 520.9L1550 151L1548 150Z" fill="#995041"/>
<path d="M799.3 520.3L802.0 521.5L1551 151L1549 150Z" fill="#8c4032"/>
<path d="M800.7 520.9L803.4 522.2L1552 152L1550 151Z" fill="#8a3f31"/>
<path d="M802.0 521.5L804.8 523.0L1553 152L1551 151Z" fill="#883c2f"/>
<path d="M803.4 522.2L806.2 523.8L1555 153L1552 152Z" fill="#83392c"/>
<path d="M804.8 523.0L807.6 524.7L1556 154L1553 152Z" fill="#7f3629"/>
<path d="M806.2 523.8L808.9 525.7L1557 155L1555 153Z" fill="#7c3327"/>
<path d="M807.6 524.7L810.3 526.8L1558 155L1556 154Z" fill="#7b3327"/>
<path d="M808.9 525.7L811.7 528.0L1559 156L1557 155Z" fill="#7b3327"/>
<path d="M810.3 526.8L813.1 529.3L1560 158L1558 155Z" fill="#7b3327"/>
<path d="M811.7 528.0L814.5 530.8L1562 159L1559 156Z" fill="#7b3327"/>
<path d="M813.1 529.3L815.8 532.4L1563 160L1560 158Z" fill="#7b3327"/>
<path d="M814.5 530.8L817.2 534.2L1564 162L1562 159Z" fill="#7b3327"/>
<path d="M815.8 532.4L818.6 536.1L1565 163L1563 160Z" fill="#7b3327"/>
<path d="M817.2 534.2L820.0 538.1L1566 165L1564 162Z" fill="#7b3327"/>
<path d="M818.6 536.1L821.3 540.2L1567 167L1565 163Z" fill="#7b3327"/>
<path d="M820.0 538.1L822.7 542.3L1569 168L1566 165Z" fill="#7b3327"/>
<path d="M821.3 540.2L824.1 544.4L1570 170L1567 167Z" fill="#7b3327"/>
<path d="M822.7 542.3L825.5 546.5L1571 172L1569 168Z" fill="#80382c"/>
<path d="M824.1 544.4L826.8 548.4L1572 174L1570 170Z" fill="#874033"/>
<path d="M825.5 546.5L828.2 550.3L1573 175L1571 172Z" fill="#904a3b"/>
<path d="M826.8 548.4L829.6 551.9L1574 177L1572 174Z" fill="#995344"/>
<path d="M828.2 550.3L830.9 553.3L1575 178L1573 175Z" fill="#a15c4b"/>
<path d="M829.6 551.9L830.9 553.3L1575 178L1574 177Z" fill="#a66250"/>
<path d="M148.8 237.5L150.4 237.6L152.0 237.9L153.5 238.3L155.1 238.8L156.7 239.4L158.2 240.1L159.7 240.9L161.3 241.7L162.8 242.6L164.3 243.5L165.7 244.6L167.2 245.9L168.7 247.2L170.1 248.8L171.5 250.5L173.0 252.3L174.4 254.3L175.8 256.4L177.2 258.5L178.6 260.7L180.0 262.7L181.3 264.6L182.7 266.3L184.0 267.7L185.4 268.8L186.7 269.6L188.1 270.1L189.4 270.3L190.7 270.2L192.0 269.8L193.3 269.3L194.6 268.6L195.9 267.8L197.2 267.1L198.5 266.4L199.8 265.8L201.0 265.3L202.3 264.9L203.6 264.8L204.8 264.8L206.1 264.9L207.4 265.2L208.6 265.5L209.9 266.0L211.1 266.5L212.4 267.1L213.6 267.8L214.8 268.4L216.1 269.2L217.3 270.0L218.6 270.9L219.8 272.0L221.1 273.2L222.3 274.5L223.5 276.0L224.8 277.6L226.0 279.4L227.3 281.2L228.5 283.2L229.8 285.1L231.0 287.0L232.3 288.8L233.5 290.4L234.8 291.7L236.1 292.9L237.3 293.7L238.6 294.2L239.9 294.4L241.2 294.3L242.5 294.0L243.8 293.4L245.1 292.7L246.4 292.0L247.7 291.2L249.0 290.4L250.3 289.7L251.6 289.1L252.9 288.7L254.2 288.5L255.6 288.4L256.9 288.4L258.2 288.6L259.6 288.9L260.9 289.3L262.2 289.8L263.6 290.4L264.9 291.0L266.3 291.6L267.6 292.4L269.0 293.2L270.3 294.1L271.7 295.2L273.1 296.4L274.4 297.8L275.8 299.4L277.2 301.1L278.5 303.0L279.9 305.0L281.3 307.0L282.6 309.1L284.0 311.1L285.4 313.0L286.8 314.7L288.1 316.1L289.5 317.3L290.9 318.1L292.3 318.6L293.7 318.8L295.0 318.6L296.4 318.2L297.8 317.6L299.2 316.8L300.6 315.9L301.9 315.0L303.3 314.2L304.7 313.4L306.1 312.8L307.5 312.3L308.8 312.1L310.2 311.9L311.6 312.0L313.0 312.2L314.4 312.5L315.7 312.9L317.1 313.4L318.5 314.0L319.9 314.6L321.3 315.3L322.6 316.0L324.0 316.8L325.4 317.8L326.8 318.9L328.1 320.1L329.5 321.5L330.9 323.1L332.3 324.9L333.6 326.7L335.0 328.7L336.4 330.8L337.7 332.9L339.1 334.9L340.5 336.7L341.9 338.4L343.2 339.9L344.6 341.0L345.9 341.8L347.3 342.3L348.7 342.5L350.0 342.4L351.4 342.0L352.7 341.4L354.1 340.7L355.4 339.8L356.8 339.0L358.2 338.2L359.5 337.5L360.9 337.0L362.2 336.6L363.6 336.3L364.9 336.3L366.3 336.4L367.6 336.6L369.0 336.9L370.3 337.4L371.7 337.9L373.1 338.5L374.4 339.1L375.8 339.8L377.2 340.5L378.5 341.4L379.9 342.3L381.3 343.4L382.6 344.7L384.0 346.1L385.4 347.7L386.8 349.5L388.2 351.4L389.5 353.4L390.9 355.5L392.3 357.6L393.7 359.6L395.1 361.6L396.6 363.3L398.0 364.8L399.4 366.0L400.8 366.8L402.2 367.3L403.7 367.5L405.1 367.3L406.6 366.9L408.0 366.2L409.5 365.4L410.9 364.4L412.4 363.5L413.8 362.5L415.3 361.7L416.8 361.0L418.3 360.5L419.7 360.1L421.2 360.0L422.7 360.0L424.2 360.1L425.7 360.4L427.2 360.8L428.7 361.3L430.2 361.9L431.7 362.5L433.2 363.2L434.7 364.0L436.2 364.8L437.8 365.8L439.3 367.0L440.8 368.3L442.3 369.8L443.8 371.6L445.4 373.5L446.9 375.6L448.4 377.8L449.9 380.0L451.5 382.3L453.0 384.5L454.5 386.6L456.0 388.5L457.6 390.1L459.1 391.3L460.6 392.3L462.2 392.8L463.7 393.0L465.2 392.9L466.7 392.4L468.3 391.8L469.8 390.9L471.3 390.0L472.8 389.1L474.3 388.2L475.9 387.5L477.4 386.9L478.9 386.5L480.4 386.2L481.9 386.2L483.4 386.3L484.9 386.6L486.5 387.1L488.0 387.6L489.5 388.3L491.0 389.0L492.5 389.7L494.0 390.5L495.5 391.4L497.0 392.4L498.5 393.6L500.0 394.8L501.5 396.3L503.0 397.9L504.5 399.7L506.0 401.7L507.5 403.8L508.9 406.0L510.4 408.3L511.9 410.6L513.4 412.8L514.9 414.9L516.3 416.8L517.8 418.3L519.3 419.6L520.8 420.5L522.2 421.1L523.7 421.2L525.2 421.1L526.6 420.7L528.1 420.1L529.5 419.2L531.0 418.4L532.4 417.4L533.9 416.6L535.3 415.8L536.8 415.2L538.2 414.7L539.7 414.4L541.1 414.3L542.6 414.4L544.0 414.6L545.5 414.9L546.9 415.3L548.4 415.8L549.9 416.3L551.3 416.9L552.8 417.6L554.2 418.3L555.7 419.1L557.1 420.1L558.6 421.1L560.1 422.4L561.5 423.8L563.0 425.4L564.5 427.2L566.0 429.1L567.4 431.2L568.9 433.3L570.4 435.4L571.9 437.5L573.4 439.4L574.9 441.2L576.4 442.6L577.9 443.8L579.4 444.5L580.9 445.0L582.5 445.0L584.0 444.7L585.5 444.1L587.1 443.3L588.6 442.3L590.1 441.2L591.7 440.0L593.3 438.9L594.8 437.9L596.4 437.1L598.0 436.4L599.5 435.9L601.1 435.7L602.7 435.6L604.3 435.7L605.8 435.9L607.4 436.2L609.0 436.6L610.6 437.1L612.2 437.7L613.8 438.3L615.4 439.0L617.0 439.9L618.5 440.8L620.1 442.0L621.7 443.3L623.3 444.8L624.9 446.5L626.5 448.4L628.1 450.5L629.7 452.7L631.3 455.0L632.9 457.3L634.4 459.5L636.0 461.5L637.6 463.4L639.2 464.9L640.8 466.1L642.3 467.0L643.9 467.4L645.5 467.5L647.0 467.3L648.6 466.7L650.1 466.0L651.7 465.0L653.2 464.0L654.8 463.0L656.3 462.1L657.9 461.2L659.4 460.6L660.9 460.1L662.5 459.8L664.0 459.7L665.5 459.8L667.1 460.0L668.6 460.4L670.1 460.9L671.7 461.5L673.2 462.1L674.7 462.8L676.2 463.6L677.8 464.4L679.3 465.4L680.8 466.5L682.3 467.7L683.9 469.1L685.4 470.7L686.9 472.5L688.5 474.5L690.0 476.7L691.5 478.9L693.1 481.3L694.6 483.6L696.1 485.9L697.7 488.1L699.2 490.0L700.8 491.6L702.3 493.0L703.9 493.9L705.4 494.5L707.0 494.7L708.5 494.6L710.1 494.2L711.7 493.5L713.2 492.7L714.8 491.8L716.4 490.8L718.0 489.9L719.6 489.1L721.1 488.5L722.7 488.0L724.3 487.7L725.9 487.7L727.5 487.8L729.1 488.1L730.7 488.5L732.3 489.0L733.9 489.7L735.6 490.4L737.2 491.1L738.8 492.0L740.4 492.9L742.0 493.9L743.6 495.1L745.3 496.5L746.9 498.0L748.5 499.7L750.2 501.7L751.8 503.8L753.4 506.1L755.1 508.6L756.7 511.1L758.3 513.6L760.0 516.1L761.6 518.4L763.3 520.4L764.9 522.2L766.5 523.6L768.2 524.6L769.8 525.3L771.5 525.5L773.1 525.4L774.8 524.9L776.4 524.2L778.1 523.4L779.7 522.4L781.4 521.4L783.0 520.5L784.7 519.7L786.4 519.0L788.0 518.5L789.7 518.3L791.3 518.3L793.0 518.4L794.6 518.7L796.3 519.2L797.9 519.8L799.6 520.4L801.3 521.2L802.9 522.0L804.6 522.9L806.2 523.8L807.9 524.9L809.5 526.1L811.2 527.5L812.8 529.1L814.5 530.8L816.1 532.8L817.8 535.0L819.4 537.3L821.1 539.8L822.7 542.3L824.4 544.8L826.0 547.3L827.7 549.5L829.3 551.6L830.9 553.3L1575 178L1002 -88Z" fill="url(#fade)"/>
<path d="M148.8 237.5L150.4 237.6L152.0 237.9L153.5 238.3L155.1 238.8L156.7 239.4L158.2 240.1L159.7 240.9L161.3 241.7L162.8 242.6L164.3 243.5L165.7 244.6L167.2 245.9L168.7 247.2L170.1 248.8L171.5 250.5L173.0 252.3L174.4 254.3L175.8 256.4L177.2 258.5L178.6 260.7L180.0 262.7L181.3 264.6L182.7 266.3L184.0 267.7L185.4 268.8L186.7 269.6L188.1 270.1L189.4 270.3L190.7 270.2L192.0 269.8L193.3 269.3L194.6 268.6L195.9 267.8L197.2 267.1L198.5 266.4L199.8 265.8L201.0 265.3L202.3 264.9L203.6 264.8L204.8 264.8L206.1 264.9L207.4 265.2L208.6 265.5L209.9 266.0L211.1 266.5L212.4 267.1L213.6 267.8L214.8 268.4L216.1 269.2L217.3 270.0L218.6 270.9L219.8 272.0L221.1 273.2L222.3 274.5L223.5 276.0L224.8 277.6L226.0 279.4L227.3 281.2L228.5 283.2L229.8 285.1L231.0 287.0L232.3 288.8L233.5 290.4L234.8 291.7L236.1 292.9L237.3 293.7L238.6 294.2L239.9 294.4L241.2 294.3L242.5 294.0L243.8 293.4L245.1 292.7L246.4 292.0L247.7 291.2L249.0 290.4L250.3 289.7L251.6 289.1L252.9 288.7L254.2 288.5L255.6 288.4L256.9 288.4L258.2 288.6L259.6 288.9L260.9 289.3L262.2 289.8L263.6 290.4L264.9 291.0L266.3 291.6L267.6 292.4L269.0 293.2L270.3 294.1L271.7 295.2L273.1 296.4L274.4 297.8L275.8 299.4L277.2 301.1L278.5 303.0L279.9 305.0L281.3 307.0L282.6 309.1L284.0 311.1L285.4 313.0L286.8 314.7L288.1 316.1L289.5 317.3L290.9 318.1L292.3 318.6L293.7 318.8L295.0 318.6L296.4 318.2L297.8 317.6L299.2 316.8L300.6 315.9L301.9 315.0L303.3 314.2L304.7 313.4L306.1 312.8L307.5 312.3L308.8 312.1L310.2 311.9L311.6 312.0L313.0 312.2L314.4 312.5L315.7 312.9L317.1 313.4L318.5 314.0L319.9 314.6L321.3 315.3L322.6 316.0L324.0 316.8L325.4 317.8L326.8 318.9L328.1 320.1L329.5 321.5L330.9 323.1L332.3 324.9L333.6 326.7L335.0 328.7L336.4 330.8L337.7 332.9L339.1 334.9L340.5 336.7L341.9 338.4L343.2 339.9L344.6 341.0L345.9 341.8L347.3 342.3L348.7 342.5L350.0 342.4L351.4 342.0L352.7 341.4L354.1 340.7L355.4 339.8L356.8 339.0L358.2 338.2L359.5 337.5L360.9 337.0L362.2 336.6L363.6 336.3L364.9 336.3L366.3 336.4L367.6 336.6L369.0 336.9L370.3 337.4L371.7 337.9L373.1 338.5L374.4 339.1L375.8 339.8L377.2 340.5L378.5 341.4L379.9 342.3L381.3 343.4L382.6 344.7L384.0 346.1L385.4 347.7L386.8 349.5L388.2 351.4L389.5 353.4L390.9 355.5L392.3 357.6L393.7 359.6L395.1 361.6L396.6 363.3L398.0 364.8L399.4 366.0L400.8 366.8L402.2 367.3L403.7 367.5L405.1 367.3L406.6 366.9L408.0 366.2L409.5 365.4L410.9 364.4L412.4 363.5L413.8 362.5L415.3 361.7L416.8 361.0L418.3 360.5L419.7 360.1L421.2 360.0L422.7 360.0L424.2 360.1L425.7 360.4L427.2 360.8L428.7 361.3L430.2 361.9L431.7 362.5L433.2 363.2L434.7 364.0L436.2 364.8L437.8 365.8L439.3 367.0L440.8 368.3L442.3 369.8L443.8 371.6L445.4 373.5L446.9 375.6L448.4 377.8L449.9 380.0L451.5 382.3L453.0 384.5L454.5 386.6L456.0 388.5L457.6 390.1L459.1 391.3L460.6 392.3L462.2 392.8L463.7 393.0L465.2 392.9L466.7 392.4L468.3 391.8L469.8 390.9L471.3 390.0L472.8 389.1L474.3 388.2L475.9 387.5L477.4 386.9L478.9 386.5L480.4 386.2L481.9 386.2L483.4 386.3L484.9 386.6L486.5 387.1L488.0 387.6L489.5 388.3L491.0 389.0L492.5 389.7L494.0 390.5L495.5 391.4L497.0 392.4L498.5 393.6L500.0 394.8L501.5 396.3L503.0 397.9L504.5 399.7L506.0 401.7L507.5 403.8L508.9 406.0L510.4 408.3L511.9 410.6L513.4 412.8L514.9 414.9L516.3 416.8L517.8 418.3L519.3 419.6L520.8 420.5L522.2 421.1L523.7 421.2L525.2 421.1L526.6 420.7L528.1 420.1L529.5 419.2L531.0 418.4L532.4 417.4L533.9 416.6L535.3 415.8L536.8 415.2L538.2 414.7L539.7 414.4L541.1 414.3L542.6 414.4L544.0 414.6L545.5 414.9L546.9 415.3L548.4 415.8L549.9 416.3L551.3 416.9L552.8 417.6L554.2 418.3L555.7 419.1L557.1 420.1L558.6 421.1L560.1 422.4L561.5 423.8L563.0 425.4L564.5 427.2L566.0 429.1L567.4 431.2L568.9 433.3L570.4 435.4L571.9 437.5L573.4 439.4L574.9 441.2L576.4 442.6L577.9 443.8L579.4 444.5L580.9 445.0L582.5 445.0L584.0 444.7L585.5 444.1L587.1 443.3L588.6 442.3L590.1 441.2L591.7 440.0L593.3 438.9L594.8 437.9L596.4 437.1L598.0 436.4L599.5 435.9L601.1 435.7L602.7 435.6L604.3 435.7L605.8 435.9L607.4 436.2L609.0 436.6L610.6 437.1L612.2 437.7L613.8 438.3L615.4 439.0L617.0 439.9L618.5 440.8L620.1 442.0L621.7 443.3L623.3 444.8L624.9 446.5L626.5 448.4L628.1 450.5L629.7 452.7L631.3 455.0L632.9 457.3L634.4 459.5L636.0 461.5L637.6 463.4L639.2 464.9L640.8 466.1L642.3 467.0L643.9 467.4L645.5 467.5L647.0 467.3L648.6 466.7L650.1 466.0L651.7 465.0L653.2 464.0L654.8 463.0L656.3 462.1L657.9 461.2L659.4 460.6L660.9 460.1L662.5 459.8L664.0 459.7L665.5 459.8L667.1 460.0L668.6 460.4L670.1 460.9L671.7 461.5L673.2 462.1L674.7 462.8L676.2 463.6L677.8 464.4L679.3 465.4L680.8 466.5L682.3 467.7L683.9 469.1L685.4 470.7L686.9 472.5L688.5 474.5L690.0 476.7L691.5 478.9L693.1 481.3L694.6 483.6L696.1 485.9L697.7 488.1L699.2 490.0L700.8 491.6L702.3 493.0L703.9 493.9L705.4 494.5L707.0 494.7L708.5 494.6L710.1 494.2L711.7 493.5L713.2 492.7L714.8 491.8L716.4 490.8L718.0 489.9L719.6 489.1L721.1 488.5L722.7 488.0L724.3 487.7L725.9 487.7L727.5 487.8L729.1 488.1L730.7 488.5L732.3 489.0L733.9 489.7L735.6 490.4L737.2 491.1L738.8 492.0L740.4 492.9L742.0 493.9L743.6 495.1L745.3 496.5L746.9 498.0L748.5 499.7L750.2 501.7L751.8 503.8L753.4 506.1L755.1 508.6L756.7 511.1L758.3 513.6L760.0 516.1L761.6 518.4L763.3 520.4L764.9 522.2L766.5 523.6L768.2 524.6L769.8 525.3L771.5 525.5L773.1 525.4L774.8 524.9L776.4 524.2L778.1 523.4L779.7 522.4L781.4 521.4L783.0 520.5L784.7 519.7L786.4 519.0L788.0 518.5L789.7 518.3L791.3 518.3L793.0 518.4L794.6 518.7L796.3 519.2L797.9 519.8L799.6 520.4L801.3 521.2L802.9 522.0L804.6 522.9L806.2 523.8L807.9 524.9L809.5 526.1L811.2 527.5L812.8 529.1L814.5 530.8L816.1 532.8L817.8 535.0L819.4 537.3L821.1 539.8L822.7 542.3L824.4 544.8L826.0 547.3L827.7 549.5L829.3 551.6L830.9 553.3L1575 178L1002 -88Z" fill="url(#haze)"/>
<path d="M194.6 270.1L195.3 269.7L196.1 269.2L196.9 268.7L197.7 268.3L198.5 267.8L199.3 267.4L200.0 267.1L200.8 266.7L201.6 266.5L202.4 266.3L203.1 266.1L203.9 266.0L204.7 266.0" fill="none" stroke="#ececec" stroke-width="1.7" stroke-linecap="round"/>
<path d="M245.0 294.3L245.8 293.8L246.6 293.3L247.3 292.9L248.1 292.4L248.9 291.9L249.7 291.4L250.5 291.0L251.3 290.7L252.1 290.3L252.9 290.1L253.7 289.9L254.5 289.7L255.3 289.6" fill="none" stroke="#e2e2e2" stroke-width="1.7" stroke-linecap="round"/>
<path d="M299.1 318.3L299.9 317.8L300.7 317.3L301.6 316.7L302.4 316.2L303.3 315.7L304.1 315.2L304.9 314.7L305.8 314.3L306.6 314.0L307.5 313.7L308.3 313.5L309.1 313.3L310.0 313.2" fill="none" stroke="#dcdcda" stroke-width="1.7" stroke-linecap="round"/>
<path d="M354.0 342.2L354.8 341.7L355.6 341.2L356.4 340.7L357.3 340.2L358.1 339.7L358.9 339.3L359.7 338.9L360.6 338.5L361.4 338.2L362.2 337.9L363.0 337.7L363.9 337.6L364.7 337.5" fill="none" stroke="#c6c9c4" stroke-width="1.7" stroke-linecap="round"/>
<path d="M409.3 367.0L410.2 366.4L411.1 365.9L411.9 365.3L412.8 364.7L413.7 364.1L414.6 363.6L415.5 363.1L416.4 362.6L417.3 362.2L418.2 361.9L419.1 361.6L420.0 361.4L420.9 361.3" fill="none" stroke="#9aa39a" stroke-width="1.7" stroke-linecap="round"/>
<path d="M469.6 392.5L470.5 392.0L471.4 391.4L472.3 390.9L473.3 390.3L474.2 389.8L475.1 389.3L476.0 388.8L477.0 388.4L477.9 388.1L478.8 387.8L479.7 387.6L480.7 387.5L481.6 387.4" fill="none" stroke="#707c72" stroke-width="1.7" stroke-linecap="round"/>
<path d="M529.3 420.8L530.2 420.3L531.1 419.8L532.0 419.2L532.9 418.7L533.8 418.1L534.6 417.6L535.5 417.2L536.4 416.8L537.3 416.4L538.2 416.1L539.1 415.9L539.9 415.7L540.8 415.6" fill="none" stroke="#6e7a70" stroke-width="1.7" stroke-linecap="round"/>
<path d="M588.4 443.9L589.3 443.3L590.2 442.6L591.2 441.9L592.1 441.2L593.1 440.6L594.0 439.9L595.0 439.3L595.9 438.8L596.9 438.3L597.8 437.9L598.8 437.5L599.7 437.2L600.7 437.0" fill="none" stroke="#7f8a80" stroke-width="1.7" stroke-linecap="round"/>
<path d="M651.4 466.7L652.4 466.1L653.3 465.5L654.3 464.9L655.2 464.3L656.1 463.7L657.1 463.1L658.0 462.6L658.9 462.2L659.9 461.8L660.8 461.5L661.8 461.2L662.7 461.1L663.6 461.0" fill="none" stroke="#aab0a6" stroke-width="1.7" stroke-linecap="round"/>
<path d="M713.0 494.3L713.9 493.8L714.9 493.2L715.8 492.6L716.8 492.1L717.8 491.5L718.7 491.0L719.7 490.5L720.7 490.0L721.6 489.7L722.6 489.4L723.6 489.2L724.5 489.0L725.5 488.9" fill="none" stroke="#b4b9b0" stroke-width="1.7" stroke-linecap="round"/>
<path d="M777.8 525.0L778.8 524.4L779.8 523.9L780.8 523.3L781.8 522.7L782.8 522.1L783.8 521.5L784.8 521.0L785.8 520.6L786.8 520.2L787.8 519.9L788.8 519.7L789.8 519.6L790.8 519.5" fill="none" stroke="#b4b9b0" stroke-width="1.7" stroke-linecap="round"/>
<path d="M149.2 237.6C145.5 236.2 143 237.6 139.5 240C136 242.3 133 242.2 129.5 241.8" fill="none" stroke="#a39b99" stroke-width="1.1"/>
</g></g>
<!-- callout lines -->
<g stroke="#000" stroke-width="2.6" fill="none">
<path d="M88 147.7H440.5"/>
<path d="M138 268.6H242.5"/>
<path d="M253.5 282.4V350"/>
<path d="M311.2 296V518"/>
<path d="M384 327V398"/>
<path d="M490.5 376.5V480"/>
<path d="M592.7 440.3V480"/>
<path d="M686.8 443.3V540"/>
</g>
<!-- icon discs -->
<g fill="#1c214b">
<circle cx="68" cy="147" r="22.5"/>
<circle cx="117.7" cy="268.4" r="22.5"/>
<circle cx="252" cy="371.8" r="23"/>
<circle cx="310" cy="539.2" r="23"/>
<circle cx="383.9" cy="419.3" r="22.9"/>
<circle cx="488.9" cy="501" r="23.1"/>
<circle cx="591.5" cy="500.9" r="23"/>
<circle cx="685.4" cy="564.2" r="26.7"/>
</g>
<!-- 1 tape measure -->
<g fill="none" stroke="#f4f4fa" stroke-width="1.55" stroke-linecap="round" stroke-linejoin="round">
<ellipse cx="64.9" cy="142" rx="11.9" ry="4.7"/>
<path d="M53 142V148.3A11.9 4.9 0 0 0 66 153.1C74 153.2 82.4 151 82.7 146.5V141.5"/>
<path d="M76.8 142.5V146.2"/>
<path d="M61.1 146.1V142.6A3.4 1.8 0 1 1 67.9 142.6V146.1H61.1"/>
<path d="M67.9 146.1H76.5"/>
<path d="M56.5 149.5v1.4M59 150.3v1.4M61.7 150.7v1.4M64.4 150.9v1.4M67.1 150.9v1.4M69.8 150.6v1.4M72.4 150.1v1.4M74.9 149.4v1.4M77.3 148.6v1.4" stroke-width="0.9"/>
</g>
<!-- 2 brush -->
<path d="M112.4 250.8L129.1 253.5L125.6 267.3Q121.6 267.6 121.1 270.2L118.2 284Q117.4 287.2 114.9 286.7Q112.2 286.1 112.8 283L115 269.8Q115.3 266.3 111.6 264.3Z" fill="#fff"/>
<path d="M112.1 259.9L127.2 262.3M111.9 262.7L126.5 265.1" stroke="#b9bbc9" stroke-width="0.8" fill="none"/>
<ellipse cx="115.2" cy="282.4" rx="0.8" ry="1.4" fill="#1c214b" transform="rotate(12 115.2 282.4)"/>
<!-- 3 swatches -->
<g fill="none" stroke="#dcdcea" stroke-width="1.3" stroke-linejoin="round" stroke-linecap="round">
<rect x="239.8" y="356.9" width="8.1" height="27.3" rx="1.4"/>
<circle cx="243.9" cy="379.8" r="1.5"/>
<path d="M248.6 362.3L251.7 358.2L258.6 362.4L248.9 379.4"/>
<path d="M257.6 366.6L261.1 365.1L266.5 372.3L248.9 382.3"/>
<path d="M263.6 375.4L267.6 376.9L267.9 384.2L247.9 384.2"/>
</g>
<!-- 4 pitch -->
<g fill="none" stroke="#f4f4fa" stroke-width="1.55" stroke-linecap="butt">
<path d="M295.9 548.1H324.9"/>
<path d="M296.3 548L311.7 521.2"/>
<path d="M302.1 540.3A9.5 9.5 0 0 1 306.9 548"/>
<path d="M311.4 527.6A26 26 0 0 1 321.9 544.2"/>
<path d="M314.9 526.6L311.2 527.3L312.2 531" stroke-width="1.2"/>
<path d="M318.8 542.1L321.9 544.6L324.3 541.3" stroke-width="1.2"/>
</g>
<!-- 5 flashing -->
<path d="M363.9 422.7L393 401.2L381.6 412.2L376 416.2Z" fill="#c9c9cf" stroke="#c9c9cf" stroke-width="0.5"/>
<path d="M393 401.2L403 421.5L392.1 430.3L381.4 411.8Z" fill="#fff"/>
<!-- 6 thickness -->
<g fill="none" stroke="#f4f4fa" stroke-width="1.9">
<path d="M484.8 489.4V511.9M487.9 489.4V511.9M491 489.4V511.9M494 489.4V511.9"/>
<g stroke-width="1.65"><path d="M468.6 500.4H481.6M478.3 497L481.9 500.4L478.3 503.8"/>
<path d="M509.9 500.4H496.7M499.9 497L496.4 500.4L499.9 503.8"/></g>
</g>
<!-- 7 drop -->
<g fill="none" stroke="#f4f4fa" stroke-width="1.65" stroke-linejoin="round" stroke-linecap="round">
<path d="M591.3 485.4C588 492 581.4 499 581.4 505.1A9.9 9.7 0 0 0 601.2 505.1C601.2 499 594.6 492 591.3 485.4Z"/>
<path d="M584.9 503.6A6.6 6.6 0 0 0 591 511.9" stroke-width="1.2"/>
</g>
<!-- 8 house -->
<path d="M685 549.4L700 561.8V580.2H670V561.8Z" fill="#fff"/>
<path d="M666.3 561L685 546L704.1 561" fill="none" stroke="#fff" stroke-width="2.2"/>
</svg>
<div class="t" style="left:46.0px;top:178.8px;letter-spacing:1.03px">Available in cut</div>
<div class="t" style="left:44.9px;top:199.2px;letter-spacing:1.33px">lengths of up</div>
<div class="t" style="left:45.7px;top:219.6px;letter-spacing:1.93px">to 6m</div>
<div class="t" style="left:96.6px;top:296.2px;letter-spacing:0.63px">PVC Plastisol</div>
<div class="t" style="left:97.1px;top:316.0px;letter-spacing:1.42px">Coating</div>
<div class="t" style="left:224.9px;top:400.5px;letter-spacing:0.03px">11 Colours</div>
<div class="t" style="left:226.2px;top:421.2px;letter-spacing:0.97px">Available</div>
<div class="t" style="left:282.6px;top:571.0px;letter-spacing:1.82px">Minimum Pitch</div>
<div class="t" style="left:282.7px;top:591.8px;letter-spacing:0.67px">10 degrees</div>
<div class="t" style="left:356.0px;top:448.0px;letter-spacing:1.82px">Matching</div>
<div class="t" style="left:356.0px;top:467.8px;letter-spacing:1.09px">Flashings</div>
<div class="t" style="left:357.4px;top:487.6px;letter-spacing:0.97px">Available</div>
<div class="t" style="left:463.9px;top:532.2px;letter-spacing:2.08px">0.7mm</div>
<div class="t" style="left:464.2px;top:552.6px;letter-spacing:0.93px">Thickness</div>
<div class="t" style="left:565.5px;top:531.8px;letter-spacing:1.54px">Dripstop</div>
<div class="t" style="left:566.9px;top:552.0px;letter-spacing:0.97px">Available</div>
<div class="t" style="left:657.8px;top:599.2px;letter-spacing:0.76px">Roof Or Side</div>
<div class="t" style="left:658.3px;top:619.8px;letter-spacing:1.51px">Cladding</div>
<div class="t" style="left:659.2px;top:640.2px;letter-spacing:1.47px">Application</div>
</body></html>
